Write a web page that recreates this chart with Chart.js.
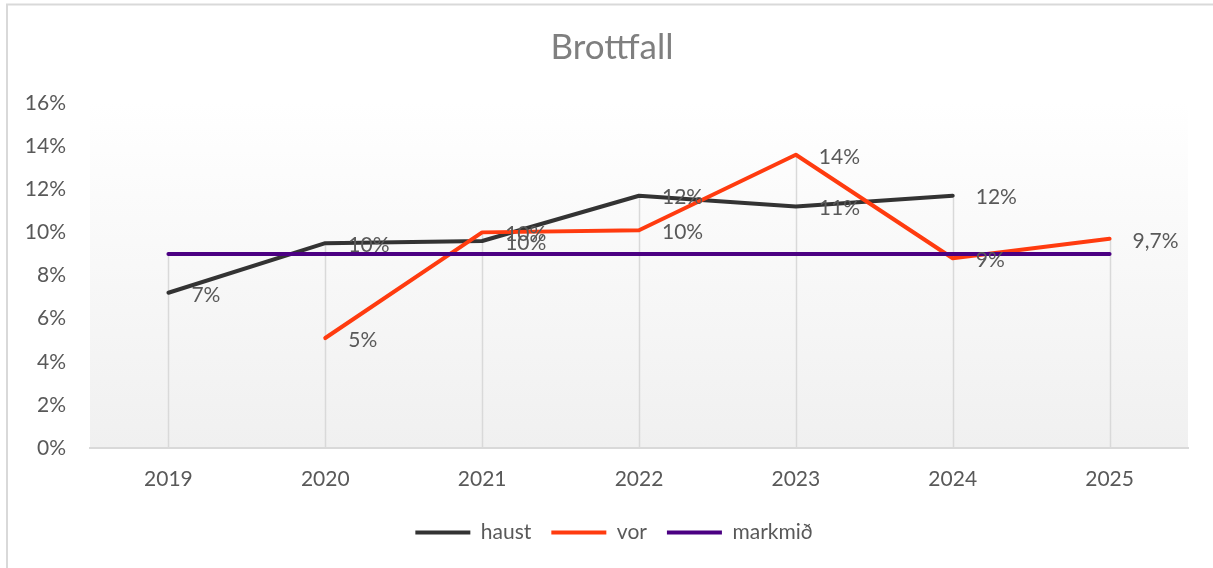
<!DOCTYPE html>
<html>
<head>
<meta charset="utf-8">
<script src="https://cdn.jsdelivr.net/npm/chart.js@4/dist/chart.umd.min.js"></script>
<style>
  html, body { margin: 0; padding: 0; background: #fff; }
</style>
</head>
<body>
<canvas id="myChart" width="1213" height="568"></canvas>
<script>
// data
const years = ['2019', '2020', '2021', '2022', '2023', '2024', '2025'];
const haust = [7.2, 9.5, 9.6, 11.7, 11.2, 11.7, null];
const vor = [null, 5.1, 10.0, 10.1, 13.6, 8.8, 9.7];
const markmid = [9, 9, 9, 9, 9, 9, 9];
const haustLabels = ['7%', '10%', '10%', '12%', '11%', '12%', ''];
const vorLabels = ['', '5%', '10%', '10%', '14%', '9%', '9,7%'];
const yTicks = [0, 2, 4, 6, 8, 10, 12, 14, 16];

const FONT = 'Lato, "Open Sans", sans-serif';
const textGrey = '#595959';

// frame + gradient plot background
const background = {
  id: 'background',
  beforeDraw(chart) {
    const ctx = chart.ctx, a = chart.chartArea;
    ctx.save();
    ctx.fillStyle = '#fff';
    ctx.fillRect(0, 0, chart.width, chart.height);
    ctx.strokeStyle = '#d9d9d9';
    ctx.lineWidth = 2;
    ctx.beginPath();
    ctx.moveTo(7, chart.height);
    ctx.lineTo(7, 4.5);
    ctx.lineTo(chart.width, 4.5);
    ctx.stroke();
    let g = ctx.createLinearGradient(0, a.top, 0, a.bottom);
    g.addColorStop(0, '#ffffff');
    g.addColorStop(1, '#f0f0f0');
    ctx.fillStyle = g;
    ctx.fillRect(a.left, a.top, a.right - a.left, a.bottom - a.top);
    ctx.restore();
  }
};

// drop lines from the highest point in each category down to the axis
const dropLines = {
  id: 'dropLines',
  beforeDatasetsDraw(chart) {
    const ctx = chart.ctx, x = chart.scales.x, y = chart.scales.y;
    ctx.save();
    ctx.strokeStyle = '#d9d9d9';
    ctx.lineWidth = 1.5;
    years.forEach((yr, i) => {
      let vals = chart.data.datasets.map(d => d.data[i]).filter(v => v !== null);
      let top = Math.max(...vals);
      let px = Math.round(x.getPixelForValue(i)) + 0.5;
      ctx.beginPath();
      ctx.moveTo(px, y.getPixelForValue(top));
      ctx.lineTo(px, y.getPixelForValue(0));
      ctx.stroke();
    });
    ctx.restore();
  }
};

// value labels to the right of the points
const valueLabels = {
  id: 'valueLabels',
  afterDatasetsDraw(chart) {
    const ctx = chart.ctx;
    ctx.save();
    ctx.font = '21px ' + FONT;
    ctx.fillStyle = textGrey;
    ctx.textBaseline = 'middle';
    ctx.textAlign = 'left';
    chart.data.datasets.forEach((ds, di) => {
      if (!ds.valueLabels) return;
      let meta = chart.getDatasetMeta(di);
      meta.data.forEach((pt, i) => {
        if (ds.data[i] === null || !ds.valueLabels[i]) return;
        ctx.fillText(ds.valueLabels[i], pt.x + 23, pt.y + 2);
      });
    });
    ctx.restore();
  }
};

// fixed legend height; legend and title sit a bit right of centre like the original
const boxNudge = {
  id: 'boxNudge',
  afterInit(chart) {
    const lg = chart.legend;
    const fit = lg.fit;
    lg.fit = function () {
      fit.call(this);
      this.height = 66;
    };
  },
  beforeDraw(chart) {
    chart.legend.left = 40;
    chart.titleBlock.left = 36;
  }
};

let myChart = document.getElementById('myChart').getContext('2d');

let chart = new Chart(myChart, {
  type: 'line',
  data: {
    labels: years,
    datasets: [{
      label: 'haust',
      data: haust,
      valueLabels: haustLabels,
      borderColor: '#333333',
      backgroundColor: '#333333',
      order: 2
    }, {
      label: 'vor',
      data: vor,
      valueLabels: vorLabels,
      borderColor: '#ff3b0f',
      backgroundColor: '#ff3b0f',
      order: 1
    }, {
      label: 'markmið',
      data: markmid,
      borderColor: '#4b0082',
      backgroundColor: '#4b0082',
      order: 0
    }]
  },
  options: {
    responsive: false,
    animation: false,
    devicePixelRatio: 1,
    datasets: {
      line: {
        borderWidth: 4,
        pointRadius: 0,
        pointHoverRadius: 0,
        tension: 0,
        spanGaps: false,
        borderCapStyle: 'round',
        borderJoinStyle: 'round'
      }
    },
    layout: { padding: { left: 8, right: 25, top: 20, bottom: 0 } },
    plugins: {
      title: {
        display: true,
        text: 'Brottfall',
        color: '#7f7f7f',
        font: { family: FONT, size: 35, weight: 'normal' },
        padding: { top: 7, bottom: 34 }
      },
      legend: {
        position: 'bottom',
        labels: {
          color: textGrey,
          font: { family: FONT, size: 21 },
          usePointStyle: true,
          pointStyle: 'line',
          pointStyleWidth: 55,
          padding: 20,
          sort: (a, b) => a.datasetIndex - b.datasetIndex
        }
      },
      tooltip: { enabled: false }
    },
    scales: {
      x: {
        offset: true,
        grid: { display: false, drawTicks: false },
        border: { display: true, color: '#d9d9d9', width: 2 },
        ticks: { color: textGrey, font: { family: FONT, size: 21 }, padding: 19 },
        afterFit(scale) { scale.height = 54; }
      },
      y: {
        min: 0,
        max: 16,
        afterBuildTicks(scale) { scale.ticks = yTicks.map(v => ({ value: v })); },
        grid: { display: false, drawTicks: false },
        border: { display: false },
        ticks: {
          color: textGrey,
          font: { family: FONT, size: 21 },
          padding: 24,
          callback: v => v + '%'
        },
        afterFit(scale) { scale.width = 82; }
      }
    }
  },
  plugins: [background, dropLines, valueLabels, boxNudge]
});
</script>
</body>
</html>
